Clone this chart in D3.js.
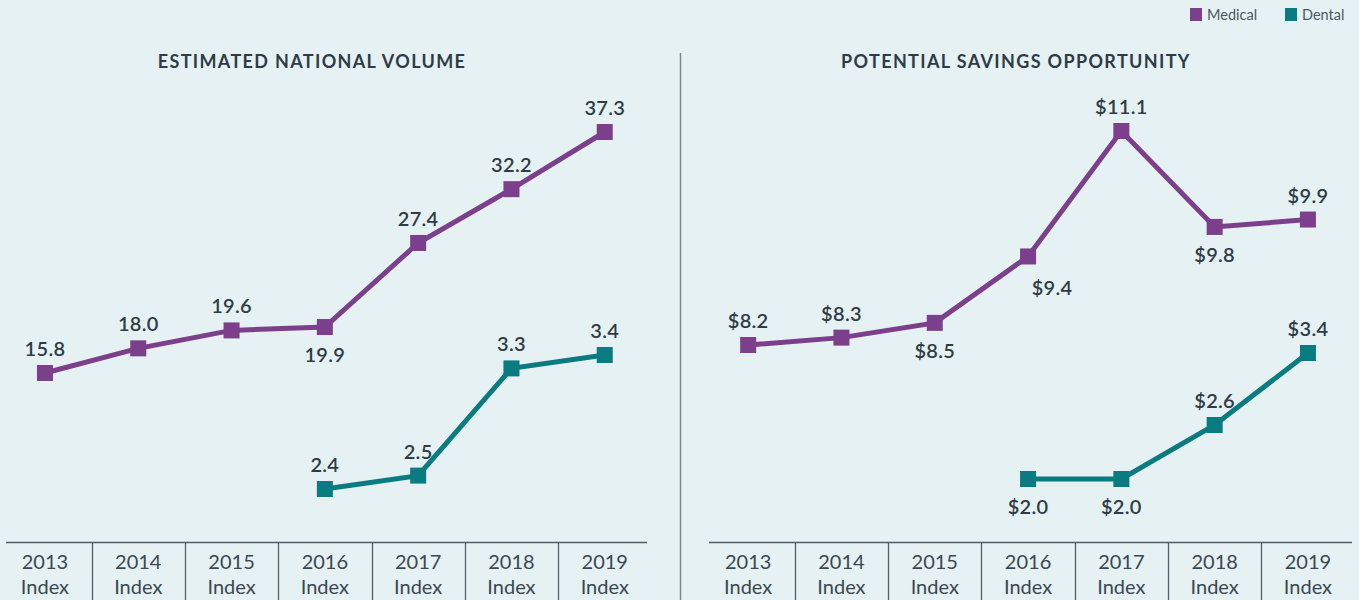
<!DOCTYPE html>
<html><head><meta charset="utf-8">
<script src="https://cdn.jsdelivr.net/npm/d3@7/dist/d3.min.js"></script>
<style>
html,body{margin:0;padding:0;background:#e6f1f3;}
svg{display:block;font-family:Lato, "Noto Sans", sans-serif;}
</style></head>
<body><svg id="c" width="1359" height="600"></svg>
<script>
const categories = ["2013","2014","2015","2016","2017","2018","2019"];
const tickSub = "Index";
const volumeMedical = [15.8,18.0,19.6,19.9,27.4,32.2,37.3];
const volumeDental = [null,null,null,2.4,2.5,3.3,3.4];
const savingsMedical = [8.2,8.3,8.5,9.4,11.1,9.8,9.9];
const savingsDental = [null,null,null,2.0,2.0,2.6,3.4];
const volumeMedicalPlace = ["a","a","a","b","a","a","a"];
const volumeDentalPlace = [null,null,null,"a","a","a","a"];
const savingsMedicalPlace = ["a","a","b","br","a","b","a"];
const savingsDentalPlace = [null,null,null,"b","b","a","a"];
const titles = ["ESTIMATED NATIONAL VOLUME","POTENTIAL SAVINGS OPPORTUNITY"];
const seriesNames = ["Medical","Dental"];

const colors = {Medical:"#7b3f8b", Dental:"#0a7b81"};
const textColor = "#2e3c47";
const svg = d3.select("#c");

// legend
const leg = svg.append("g");
[["Medical",1190,1207],["Dental",1285,1302]].forEach(([n,sx,tx])=>{
  leg.append("rect").attr("x",sx).attr("y",8).attr("width",12).attr("height",13).attr("fill",colors[n]);
  leg.append("text").attr("x",tx).attr("y",20).attr("font-size",14.5).attr("fill","#4a5862").text(n);
});

// divider
svg.append("line").attr("x1",680.5).attr("x2",680.5).attr("y1",53).attr("y2",600)
  .attr("stroke","#7d8a90").attr("stroke-width",1.5);

const panels = [
  {title:titles[0], titleX:312, x0:-1.7, lineX:[6,647],
   series:[
     {name:"Medical", vals:volumeMedical, place:volumeMedicalPlace, dom:[15.8,37.3], rng:[373,132], fmt:d=>d.toFixed(1)},
     {name:"Dental", vals:volumeDental, place:volumeDentalPlace, dom:[2.4,3.4], rng:[489,355], fmt:d=>d.toFixed(1)}
   ]},
  {title:titles[1], titleX:1016, x0:701.5, lineX:[709,1352],
   series:[
     {name:"Medical", vals:savingsMedical, place:savingsMedicalPlace, dom:[8.2,11.1], rng:[345,131], fmt:d=>"$"+d.toFixed(1)},
     {name:"Dental", vals:savingsDental, place:savingsDentalPlace, dom:[2.0,3.4], rng:[479,353], fmt:d=>"$"+d.toFixed(1)}
   ]}
];

panels.forEach(p=>{
  const g = svg.append("g");
  const x = d3.scaleBand().domain(categories).range([p.x0, p.x0+93.3*7]);
  g.append("text").attr("x",p.titleX).attr("y",68).attr("text-anchor","middle")
    .attr("font-size",18).attr("font-weight",700).attr("letter-spacing",1.35)
    .attr("fill",textColor).text(p.title);
  // axis line
  g.append("line").attr("x1",p.lineX[0]).attr("x2",p.lineX[1]).attr("y1",542.5).attr("y2",542.5)
    .attr("stroke","#4f5d66").attr("stroke-width",1.5);
  categories.slice(1).forEach(c=>{
    const xx = Math.round(x(c))+0.5;
    g.append("line").attr("x1",xx).attr("x2",xx).attr("y1",542).attr("y2",600)
      .attr("stroke","#4f5d66").attr("stroke-width",1.3);
  });
  categories.forEach(c=>{
    const cx = x(c)+x.bandwidth()/2;
    const t = g.append("text").attr("text-anchor","middle").attr("font-size",20).attr("fill","#3a4852");
    t.append("tspan").attr("x",cx).attr("y",569).text(c);
    t.append("tspan").attr("x",cx).attr("y",594).text(tickSub);
  });
  p.series.forEach(s=>{
    const y = d3.scaleLinear().domain(s.dom).range(s.rng);
    const pts = s.vals.map((v,i)=>({v,i,c:categories[i],pl:s.place[i]})).filter(d=>d.v!=null);
    const line = d3.line().x(d=>x(d.c)+x.bandwidth()/2).y(d=>y(d.v));
    g.append("path").attr("d",line(pts)).attr("fill","none").attr("stroke",colors[s.name]).attr("stroke-width",5);
    g.selectAll(null).data(pts).enter().append("rect")
      .attr("x",d=>x(d.c)+x.bandwidth()/2-8).attr("y",d=>y(d.v)-8)
      .attr("width",16).attr("height",16).attr("fill",colors[s.name]);
    g.selectAll(null).data(pts).enter().append("text")
      .attr("x",d=>x(d.c)+x.bandwidth()/2 + (d.pl==="br"?24:0))
      .attr("y",d=>y(d.v) + (d.pl==="a"?-17:(d.pl==="br"?39:35)))
      .attr("text-anchor","middle").attr("font-size",20).attr("font-weight",600)
      .attr("letter-spacing",0.3)
      .attr("fill",textColor).text(d=>s.fmt(d.v));
  });
});
</script></body></html>
